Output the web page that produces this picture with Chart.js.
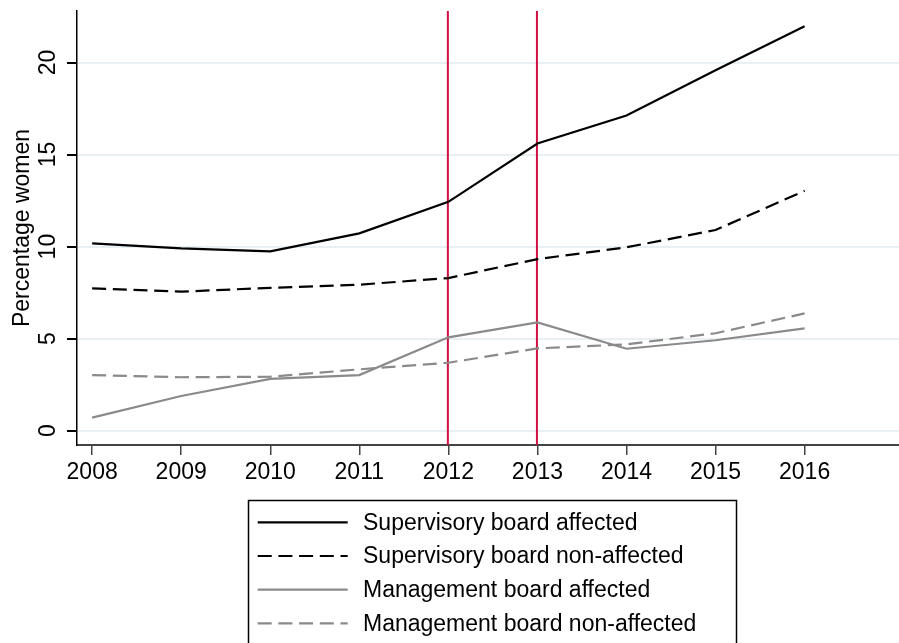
<!DOCTYPE html>
<html>
<head>
<meta charset="utf-8">
<script src="https://cdn.jsdelivr.net/npm/chart.js@4"></script>
<style>
html, body { margin: 0; padding: 0; background: #fff; }
canvas { display: block; }
</style>
</head>
<body>
<canvas id="chart" width="899" height="643"></canvas>
<script>
const years = [2008, 2009, 2010, 2011, 2012, 2013, 2014, 2015, 2016];
const supervisoryAffected = [10.17, 9.90, 9.74, 10.72, 12.43, 15.60, 17.12, 19.58, 21.97];
const supervisoryNonAffected = [7.73, 7.55, 7.76, 7.93, 8.29, 9.32, 9.96, 10.90, 13.03];
const managementAffected = [0.71, 1.88, 2.81, 3.02, 5.07, 5.88, 4.45, 4.91, 5.56];
const managementNonAffected = [3.02, 2.90, 2.93, 3.33, 3.69, 4.47, 4.69, 5.29, 6.37];
const yTicks = [0, 5, 10, 15, 20];
const quotaYears = [2012, 2013];

const FONT = "'Liberation Sans', Arial, Helvetica, sans-serif";
const GRAY = '#8a8a8a';
const DASH = [14, 6.7];

function series(values) {
    return years.map((yr, i) => ({ x: yr, y: values[i] }));
}

// red lines, rotated y labels, y title and the boxed legend
const extras = {
    id: 'extras',
    beforeDatasetsDraw(chart) {
        const ctx = chart.ctx;
        const area = chart.chartArea;
        const xs = chart.scales.x;
        ctx.save();
        ctx.strokeStyle = '#cf1040';
        ctx.lineWidth = 2;
        quotaYears.forEach(yr => {
            const px = xs.getPixelForValue(yr) - 0.5;
            ctx.beginPath();
            ctx.moveTo(px, area.top);
            ctx.lineTo(px, area.bottom);
            ctx.stroke();
        });
        ctx.restore();
    },
    afterDraw(chart) {
        const ctx = chart.ctx;
        const area = chart.chartArea;
        const ys = chart.scales.y;
        ctx.save();
        ctx.fillStyle = '#000';
        ctx.font = '23px ' + FONT;
        ctx.textAlign = 'center';
        ctx.textBaseline = 'middle';

        yTicks.forEach(v => {
            ctx.save();
            ctx.translate(48.5, ys.getPixelForValue(v));
            ctx.rotate(-Math.PI / 2);
            ctx.fillText(String(v), 0, 0);
            ctx.restore();
        });

        ctx.save();
        ctx.translate(22.5, (area.top + area.bottom) / 2);
        ctx.rotate(-Math.PI / 2);
        ctx.fillText('Percentage women', 0, 0);
        ctx.restore();

        // legend
        ctx.strokeStyle = '#000';
        ctx.lineWidth = 1.5;
        ctx.strokeRect(248.5, 500.5, 488, 170);
        ctx.textAlign = 'left';
        chart.data.datasets.forEach((ds, i) => {
            const y = 522.3 + i * 33.7;
            ctx.beginPath();
            ctx.setLineDash(ds.borderDash || []);
            ctx.strokeStyle = ds.borderColor;
            ctx.lineWidth = ds.borderWidth;
            ctx.moveTo(257.7, y);
            ctx.lineTo(347.7, y);
            ctx.stroke();
            ctx.setLineDash([]);
            ctx.fillStyle = '#000';
            ctx.fillText(ds.label, 363, y + 1);
        });
        ctx.restore();
    }
};

const chart = new Chart(document.getElementById('chart'), {
    type: 'line',
    data: {
        datasets: [
            { label: 'Supervisory board affected', data: series(supervisoryAffected),
              borderColor: '#000', borderWidth: 2.2 },
            { label: 'Supervisory board non-affected', data: series(supervisoryNonAffected),
              borderColor: '#000', borderWidth: 2.2, borderDash: DASH },
            { label: 'Management board affected', data: series(managementAffected),
              borderColor: GRAY, borderWidth: 2.2 },
            { label: 'Management board non-affected', data: series(managementNonAffected),
              borderColor: GRAY, borderWidth: 2.2, borderDash: DASH }
        ]
    },
    options: {
        responsive: false,
        animation: false,
        devicePixelRatio: 1,
        layout: { padding: { top: 11, left: 0, right: 0, bottom: 0 } },
        elements: { point: { radius: 0 }, line: { tension: 0 } },
        plugins: { legend: { display: false }, tooltip: { enabled: false } },
        scales: {
            x: {
                type: 'linear',
                min: 2007.83,
                max: 2017.06,
                afterBuildTicks: s => { s.ticks = years.map(v => ({ value: v })); },
                afterFit: s => { s.height = 198; },
                ticks: { color: '#000', font: { family: FONT, size: 23 }, padding: 4,
                         maxRotation: 0, autoSkip: false, callback: v => String(v) },
                grid: { drawOnChartArea: false, tickColor: '#444', tickLength: 10, lineWidth: 1.5 },
                border: { color: '#444', width: 2 }
            },
            y: {
                type: 'linear',
                min: -0.78,
                max: 22.8,
                afterBuildTicks: s => { s.ticks = yTicks.map(v => ({ value: v })); },
                afterFit: s => { s.width = 77; },
                ticks: { display: false },
                grid: { color: '#e9f0f3', lineWidth: 2, tickColor: '#000', tickLength: 10 },
                border: { color: '#000', width: 1.5 }
            }
        }
    },
    plugins: [extras]
});
</script>
</body>
</html>
